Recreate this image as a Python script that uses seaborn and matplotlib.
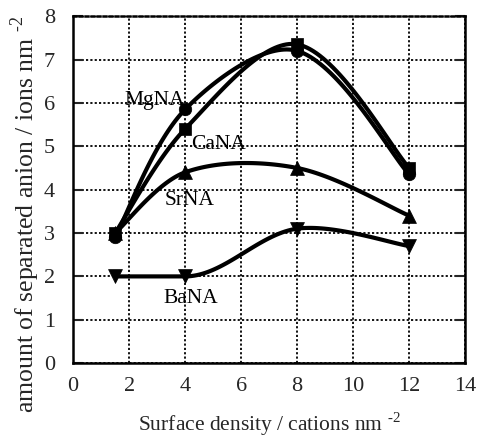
import numpy as np
import pandas as pd
import matplotlib
matplotlib.use("Agg")
import matplotlib.pyplot as plt
import seaborn as sns

# Measured amounts of separated anion vs. surface cation density
density = [1.5, 4, 8, 12]
mg_na = [2.9, 5.85, 7.2, 4.35]
ca_na = [3.0, 5.4, 7.35, 4.5]
sr_na = [3.0, 4.4, 4.5, 3.4]
ba_na = [2.0, 2.0, 3.1, 2.7]

series_names = ["MgNA", "CaNA", "SrNA", "BaNA"]
series_values = [mg_na, ca_na, sr_na, ba_na]
series_markers = ["o", "s", "^", "v"]
series_sizes = [9, 8.5, 10, 10]
label_pos = {"MgNA": (2.9, 6.05), "CaNA": (5.2, 5.05),
             "SrNA": (4.15, 3.75), "BaNA": (4.2, 1.5)}

xticks = list(range(0, 15, 2))
yticks = list(range(0, 9))

# pixel size of one data unit, used to measure chord lengths on screen
UNIT_PX = np.array([27.9, 43.4])


def smooth(xs, ys, n=40):
    """Smoothed line through the points: cubic Bezier segments whose control
    points follow the neighbouring chords, scaled by on-screen chord length.
    A point next to a flat chord gets a flat tangent, so level runs stay level."""
    p = np.column_stack([xs, ys]).astype(float)
    k = len(p)

    def tangent(i):
        a = p[i - 1] if i > 0 else p[i]
        b = p[i + 1] if i + 1 < k else p[i]
        d = b - a
        flat_left = i > 0 and p[i][1] == p[i - 1][1]
        flat_right = i + 1 < k and p[i][1] == p[i + 1][1]
        if flat_left or flat_right:
            d = np.array([d[0], 0.0])
        return d

    pts = []
    for i in range(k - 1):
        p1, p2 = p[i], p[i + 1]
        p0 = p[i - 1] if i > 0 else p[i]
        p3 = p[i + 2] if i + 2 < k else p[i + 1]
        d01 = np.linalg.norm((p1 - p0) * UNIT_PX)
        d12 = np.linalg.norm((p2 - p1) * UNIT_PX)
        d23 = np.linalg.norm((p3 - p2) * UNIT_PX)
        f1 = d12 / (d01 + d12) / 3.0 if d01 > 0 else 1 / 6.0
        f2 = d12 / (d12 + d23) / 3.0 if d23 > 0 else 1 / 6.0
        c1 = p1 + tangent(i) * f1
        c2 = p2 - tangent(i + 1) * f2
        t = np.linspace(0, 1, n)[:, None]
        seg = ((1 - t) ** 3) * p1 + 3 * ((1 - t) ** 2) * t * c1 \
            + 3 * (1 - t) * t ** 2 * c2 + t ** 3 * p2
        pts.append(seg if i == 0 else seg[1:])
    pts = np.vstack(pts)
    return pts[:, 0], pts[:, 1]


sns.set_style("ticks")
plt.rcParams["font.family"] = ["Liberation Serif", "DejaVu Serif"]
plt.rcParams["mathtext.fontset"] = "custom"
plt.rcParams["mathtext.rm"] = "Liberation Serif"

fig = plt.figure(figsize=(4.81, 4.37), dpi=100)
ax = fig.add_axes([0.152, 0.169, 0.815, 0.794])

for name, vals, mk, ms in zip(series_names, series_values, series_markers, series_sizes):
    sx, sy = smooth(density, vals)
    curve = pd.DataFrame({"x": sx, "y": sy})
    sns.lineplot(data=curve, x="x", y="y", sort=False, color="black",
                 linewidth=3.0, ax=ax, zorder=3)
    pts = pd.DataFrame({"x": density, "y": vals})
    sns.scatterplot(data=pts, x="x", y="y", marker=mk, s=ms ** 2,
                    color="black", edgecolor="black", linewidth=0.5,
                    ax=ax, zorder=4)
    lx, ly = label_pos[name]
    ax.text(lx, ly, name, ha="center", va="center", fontsize=15.5,
            color="black", zorder=5)

ax.set_xlim(0, 14)
ax.set_ylim(0, 8)
ax.set_xticks(xticks)
ax.set_yticks(yticks)
ax.grid(True, color="black", linestyle=(0, (1.2, 1.2)), linewidth=1.3)
ax.tick_params(axis="y", direction="in", length=7, width=1.5,
               left=True, right=True, labelsize=16, pad=13)
ax.tick_params(axis="x", direction="in", length=0, labelsize=16, pad=10)

for side in ["left", "right", "bottom"]:
    ax.spines[side].set_linewidth(1.8)
    ax.spines[side].set_color("black")
ax.spines["top"].set_linestyle((0, (1.2, 1.2)))
ax.spines["top"].set_linewidth(1.8)
ax.spines["top"].set_color("black")

ax.set_xlabel(r"Surface density / cations nm $^{\text{-}2}$", fontsize=15.5, labelpad=10)
ax.set_ylabel(r"amount of separated anion / ions nm $^{\text{-}2}$", fontsize=18.5)
ax.yaxis.set_label_coords(-0.08, 0.43)

fig.savefig("out.png", dpi=100)
